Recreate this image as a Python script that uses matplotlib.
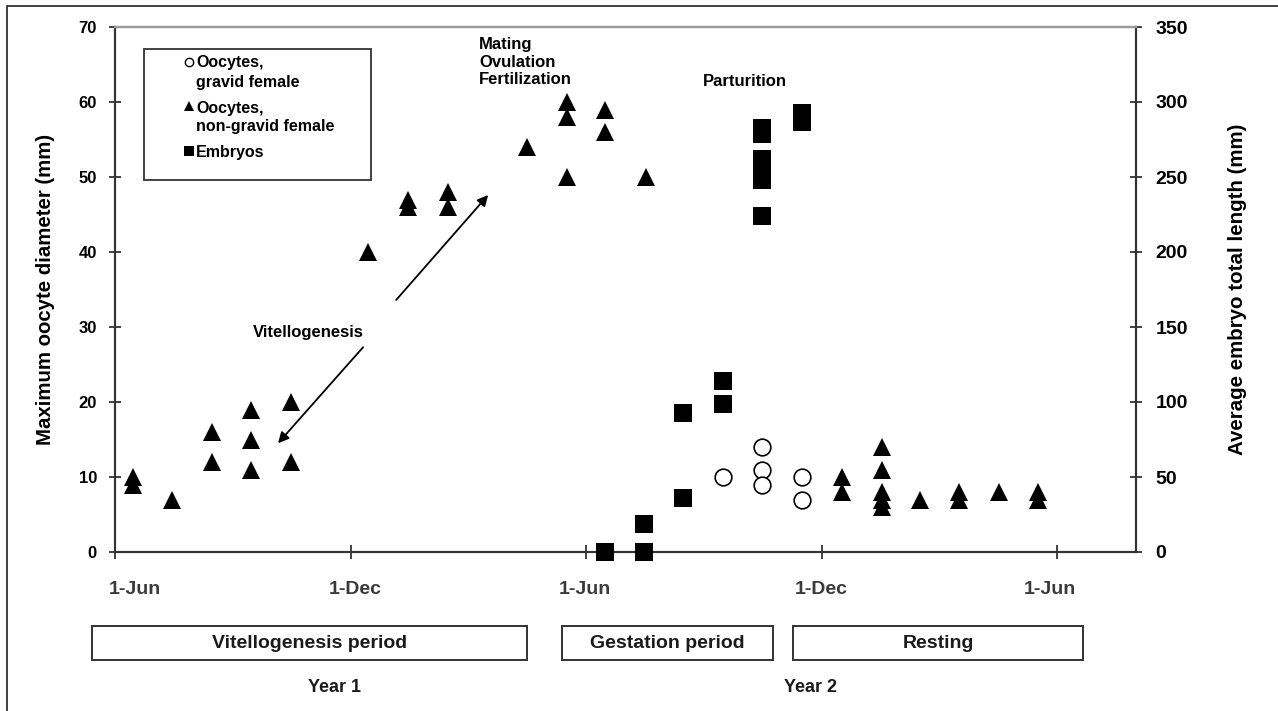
import matplotlib
matplotlib.use("Agg")
import matplotlib.pyplot as plt
from matplotlib.lines import Line2D
from matplotlib.patches import Rectangle
import matplotlib.transforms as mtransforms

plt.rcParams['font.family'] = ['Liberation Sans', 'DejaVu Sans']

# ---------------- data (x = days since 1-Jun of Year 1) ----------------
tri_day = [14, 14, 44, 75, 75, 105, 105, 105, 136, 136, 196, 227, 227, 258, 258,
           319, 350, 350, 350, 380, 380, 411,
           563, 563, 594, 594, 594, 594, 594, 624, 654, 654, 685, 715, 715]
tri_mm = [10, 9, 7, 16, 12, 19, 15, 11, 20, 12, 40, 47, 46, 48, 46,
          54, 60, 58, 50, 59, 56, 50,
          10, 8, 14, 11, 8, 7, 6, 7, 8, 7, 8, 8, 7]

circ_day = [471, 501, 501, 501, 532, 532]
circ_mm = [10, 14, 11, 9, 10, 7]

sq_day = [380, 410, 410, 440, 440, 471, 471, 501, 501, 501, 501, 501, 501, 532, 532]
sq_len = [0, 0, 19, 36, 93, 99, 114, 283, 279, 262, 255, 248, 224, 293, 287]

tick_days = [0, 183, 365, 548, 730]
tick_labels = ['1-Jun', '1-Dec', '1-Jun', '1-Dec', '1-Jun']

left_ticks = [0, 10, 20, 30, 40, 50, 60, 70]
right_ticks = [0, 50, 100, 150, 200, 250, 300, 350]

periods = ['Vitellogenesis period', 'Gestation period', 'Resting']
years = ['Year 1', 'Year 2']
legend_labels = ['Oocytes,\ngravid female', 'Oocytes,\nnon-gravid female', 'Embryos']

# ---------------- figure ----------------
W, H = 1278, 711
fig = plt.figure(figsize=(W / 100, H / 100), dpi=100)
fig.patch.set_facecolor('white')

def fx(px):
    return px / W

def fy(py):
    return 1 - py / H

ax_l, ax_r, ax_t, ax_b = 115, 1136, 27, 552
ax = fig.add_axes([fx(ax_l), fy(ax_b), fx(ax_r) - fx(ax_l), fy(ax_t) - fy(ax_b)])
ax2 = ax.twinx()

ax.set_xlim(0, 791)
ax.set_ylim(0, 70)
ax2.set_ylim(0, 350)

spine_col = '#333333'
for a in (ax, ax2):
    for s in ('left', 'right', 'bottom'):
        a.spines[s].set_color(spine_col)
        a.spines[s].set_linewidth(1.5)
    a.spines['top'].set_color('#9a9a9a')
    a.spines['top'].set_linewidth(1.6)
    a.set_facecolor('none')

ax.set_yticks(left_ticks)
ax.set_yticklabels([str(v) for v in left_ticks], fontsize=12, fontweight='bold')
ax.tick_params(axis='y', direction='inout', length=8, width=1.3, color=spine_col, pad=9)
ax2.set_yticks(right_ticks)
ax2.set_yticklabels([str(v) for v in right_ticks], fontsize=14, fontweight='bold')
ax2.tick_params(axis='y', direction='inout', length=8, width=1.3, color=spine_col, pad=10)

ax.set_xticks(tick_days)
ax.set_xticklabels([])
ax.tick_params(axis='x', direction='inout', length=10, width=1.3, color=spine_col)

ax.set_ylabel('Maximum oocyte diameter (mm)', fontsize=14.7, fontweight='bold')
ax.yaxis.set_label_coords((55 - ax_l) / (ax_r - ax_l), 0.5)
ax2.set_ylabel('Average embryo total length (mm)', fontsize=14.8, fontweight='bold',
               rotation=90)
ax2.yaxis.set_label_coords((1228 - ax_l) / (ax_r - ax_l), 0.5)

# markers
ax.plot(tri_day, tri_mm, linestyle='none', marker='^', ms=13, color='black',
        markeredgewidth=0, clip_on=False, zorder=3)
ax.plot(circ_day, circ_mm, linestyle='none', marker='o', ms=12, markerfacecolor='white',
        markeredgecolor='black', markeredgewidth=1.2, clip_on=False, zorder=3)
ax2.plot(sq_day, sq_len, linestyle='none', marker='s', ms=13.5, color='black',
         markeredgewidth=0, clip_on=False, zorder=3)

# x tick labels (separate band under axis)
shift_px = [20, 4, -1, -1, -7]
for d, lab, sp in zip(tick_days, tick_labels, shift_px):
    tr = mtransforms.blended_transform_factory(ax.transData, fig.transFigure) + \
        mtransforms.ScaledTranslation(sp / 100, 0, fig.dpi_scale_trans)
    fig.text(d, fy(589), lab, transform=tr, ha='center', va='center',
             fontsize=14, fontweight='bold', color='#3a3a3a')

# annotations
ax.text(149.6, 29.3, 'Vitellogenesis', ha='center', va='center', fontsize=12,
        fontweight='bold')
ax.text(282, 65.3, 'Mating\nOvulation\nFertilization', ha='left', va='center',
        fontsize=12, fontweight='bold', linespacing=1.2)
ax.text(455.7, 62.8, 'Parturition', ha='left', va='center', fontsize=12,
        fontweight='bold')
arrow_kw = dict(arrowstyle='-|>', lw=1.3, color='black', mutation_scale=16,
                shrinkA=0, shrinkB=0)
ax.annotate('', xy=(126.3, 14.5), xytext=(192.2, 27.3), arrowprops=arrow_kw)
ax.annotate('', xy=(289.1, 47.6), xytext=(217.8, 33.6), arrowprops=arrow_kw)

# legend box
fig.add_artist(Rectangle((fx(144), fy(180)), fx(371) - fx(144), fy(49) - fy(180),
                         transform=fig.transFigure, facecolor='white',
                         edgecolor=spine_col, linewidth=1.3, zorder=5))
leg_markers = [dict(marker='o', markerfacecolor='white', markeredgecolor='black',
                    markeredgewidth=1.0, ms=6),
               dict(marker='^', color='black', markeredgewidth=0, ms=7),
               dict(marker='s', color='black', markeredgewidth=0, ms=7)]
leg_y = [(62, 63, 82), (106, 108, 127), (151, 152, None)]
for lab, mk, (my, y1, y2) in zip(legend_labels, leg_markers, leg_y):
    fig.add_artist(Line2D([fx(189)], [fy(my)], transform=fig.transFigure,
                          linestyle='none', zorder=6, **mk))
    lines = lab.split('\n')
    fig.text(fx(196), fy(y1), lines[0], ha='left', va='center', fontsize=11.5,
             fontweight='bold', zorder=6)
    if len(lines) > 1:
        fig.text(fx(196), fy(y2), lines[1], ha='left', va='center', fontsize=11.5,
                 fontweight='bold', zorder=6)

# period boxes
box_x = [(92, 527), (562, 773), (793, 1083)]
for (x0, x1), lab in zip(box_x, periods):
    fig.add_artist(Rectangle((fx(x0), fy(660)), fx(x1) - fx(x0), fy(626) - fy(660),
                             transform=fig.transFigure, facecolor='white',
                             edgecolor=spine_col, linewidth=1.4))
    fig.text(fx((x0 + x1) / 2), fy(643), lab, ha='center', va='center',
             fontsize=14, fontweight='bold', color='#1a1a1a')

for xp, lab in zip([335, 810], years):
    fig.text(fx(xp), fy(687), lab, ha='center', va='center', fontsize=13,
             fontweight='bold', color='#1a1a1a')

# outer frame (left and top)
fig.add_artist(Line2D([fx(7), fx(7), fx(1278)], [fy(711), fy(6), fy(6)],
                      transform=fig.transFigure, color=spine_col, linewidth=1.3))

fig.savefig('out.png', dpi=100, facecolor='white')
